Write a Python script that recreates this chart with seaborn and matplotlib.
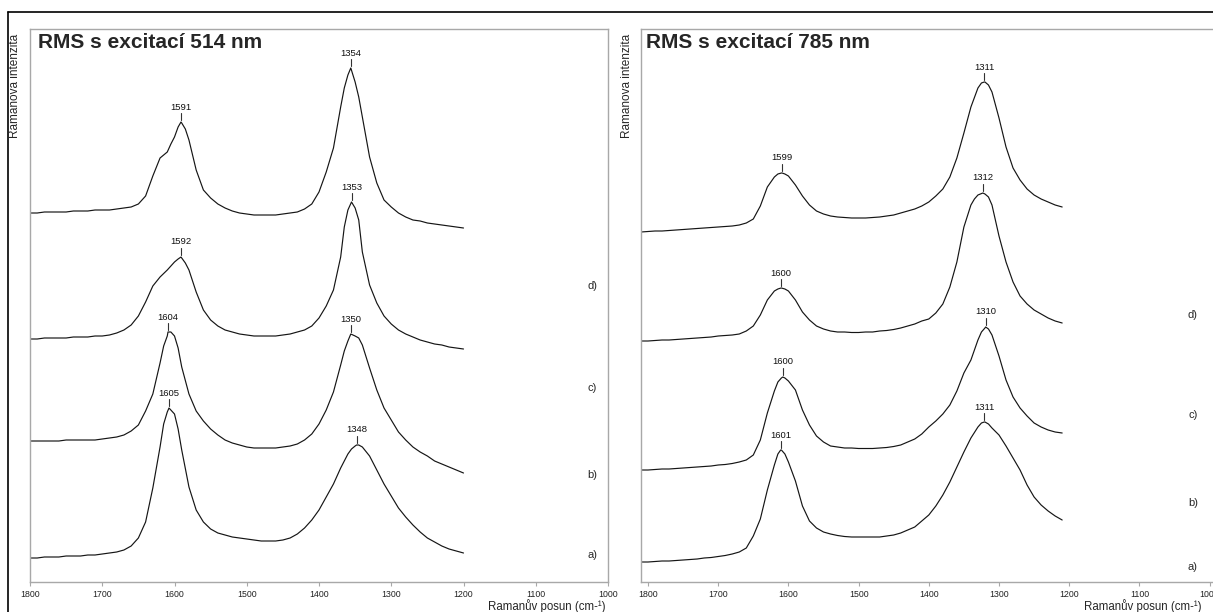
import matplotlib
matplotlib.use("Agg")
import matplotlib.pyplot as plt
import numpy as np
import pandas as pd
import seaborn as sns
from matplotlib.lines import Line2D

# ---------------- data (arbitrary intensity units, stacked) ----------------
wn_514 = list(range(1800, 1199, -10))   # Raman shift grid, 514 nm panel
wn_785 = list(range(1810, 1209, -10))   # Raman shift grid, 785 nm panel
spec_names = ["a)", "b)", "c)", "d)"]

int_514_a = [24, 24, 25, 25, 25, 26, 26, 26, 27, 27,
             28, 29, 30, 32, 36, 44, 60, 94, 135, 170,
             168, 132, 95, 72, 60, 53, 49, 47, 45, 44,
             43, 42, 41, 41, 41, 42, 44, 48, 54, 62,
             72, 85, 98, 114, 128, 136, 135, 126, 112, 98,
             86, 74, 65, 57, 50, 44, 40, 36, 33, 31,
             29]
int_514_b = [141, 141, 141, 141, 141, 142, 142, 142, 142, 142,
             143, 144, 145, 147, 151, 157, 171, 188, 219, 246,
             246, 215, 188, 171, 161, 153, 147, 142, 139, 137,
             135, 134, 134, 134, 134, 135, 136, 138, 142, 148,
             158, 172, 190, 217, 241, 246, 237, 214, 192, 174,
             162, 150, 142, 135, 130, 126, 121, 118, 115, 112,
             109]
int_514_c = [243, 243, 244, 244, 244, 244, 245, 245, 245, 246,
             246, 247, 249, 252, 257, 266, 280, 296, 305, 312,
             320, 324, 312, 290, 272, 262, 256, 252, 250, 248,
             247, 246, 246, 246, 246, 247, 248, 250, 252, 256,
             264, 276, 292, 325, 372, 374, 330, 297, 279, 266,
             258, 252, 248, 245, 242, 240, 238, 237, 235, 234,
             233]
int_514_d = [369, 369, 370, 370, 370, 370, 371, 371, 371, 372,
             372, 372, 373, 374, 375, 378, 386, 406, 424, 430,
             445, 459, 442, 412, 392, 384, 378, 374, 371, 369,
             368, 367, 367, 367, 367, 368, 369, 370, 373, 378,
             390, 410, 434, 475, 507, 500, 465, 425, 399, 382,
             375, 369, 365, 362, 361, 359, 358, 357, 356, 355,
             354]

int_785_a = [20, 20, 20.5, 21, 21, 21.5, 22, 22.5, 23, 24,
             24.5, 25.5, 26.5, 28, 30, 34, 46, 63, 92, 117,
             132, 120, 101, 76, 61, 54, 50, 48, 46.5, 45.5,
             45, 45, 45, 45, 45, 46, 47, 49, 52, 55,
             61, 67, 76, 87, 100, 115, 130, 144, 155, 160,
             154, 147, 136, 124, 112, 97, 85, 77, 71, 66,
             62]
int_785_b = [112, 112, 112.5, 113, 113, 113.5, 114, 114.5, 115, 115.5,
             116, 117, 117.5, 118.5, 120, 122, 127, 142, 169, 191,
             204, 201, 192, 172, 157, 146, 140, 136, 135, 134,
             134, 133.5, 133.5, 133.5, 134, 134.5, 135.5, 137, 140, 143,
             148, 155, 161, 168, 177, 191, 209, 222, 242, 254,
             247, 226, 202, 185, 174, 166, 159, 155, 152, 150,
             149]
int_785_c = [241, 241, 241.5, 242, 242, 242.5, 243, 243.5, 244, 244.5,
             245, 246, 246.5, 247, 248, 251, 256, 267, 282, 291,
             294, 291, 282, 270, 262, 256, 253, 251, 250, 250,
             249.5, 249.5, 250, 250, 251, 251.5, 252.5, 254, 256, 258,
             261, 263, 269, 278, 295, 320, 355, 377, 387, 388,
             377, 346, 320, 300, 286, 278, 272, 268, 264, 261,
             259]
int_785_d = [350, 350.5, 351, 351, 351.5, 352, 352.5, 353, 353.5, 354,
             354.5, 355, 355.5, 356, 357, 359, 363, 376, 395, 405,
             409, 406, 397, 386, 377, 371, 368, 366, 365, 364.5,
             364, 364, 364, 364.5, 365, 366, 367, 369, 371, 373,
             376, 380, 386, 393, 405, 424, 449, 475, 494, 500,
             490, 464, 435, 414, 402, 393, 387, 383, 380, 377,
             375]

# extra samples read near the band tops (shift, intensity) per spectrum a)..d)
fine_wn_514 = [[1615, 1595, 1355, 1345], [1615, 1605, 1595, 1365, 1345],
               [1605, 1595, 1585, 1365, 1345], [1605, 1595, 1585, 1365, 1345]]
fine_int_514 = [[158, 153, 133, 137], [236, 250, 234, 231, 244],
                [316, 323, 319, 355, 362], [438, 455, 453, 494, 485]]
fine_wn_785 = [[1615, 1605, 1325, 1315], [1615, 1605, 1325, 1315],
               [1615, 1605, 1335, 1315], [1615, 1605, 1325, 1315]]
fine_int_785 = [[128, 128, 159, 158], [200, 204, 250, 253],
                [293, 293, 383, 385], [408, 408, 499, 497]]

# peak maxima (position on axis, intensity) and their printed labels
peak_wn_514 = [[1607.6, 1348], [1609, 1356], [1591, 1355], [1591, 1356]]
peak_int_514 = [[174, 137], [250, 248], [325, 380], [460, 514]]
peak_lbl_514 = [["1605", "1348"], ["1604", "1350"], ["1592", "1353"], ["1591", "1354"]]

peak_wn_785 = [[1611, 1321], [1608, 1319], [1610.5, 1323], [1609, 1321]]
peak_int_785 = [[132, 160], [205, 255], [294, 389], [409, 500]]
peak_lbl_785 = [["1601", "1311"], ["1600", "1310"], ["1600", "1312"], ["1599", "1311"]]

titles = ["RMS s excitací 514 nm", "RMS s excitací 785 nm"]
xlabel = "Ramanův posun (cm-¹)"
ylabel = "Ramanova intenzita"
xticks = list(range(1800, 999, -100))

# ---------------- style ----------------
sns.set_theme(style="white")
plt.rcParams["font.family"] = ["Liberation Sans", "DejaVu Sans"]

W, H = 1213, 612
fig = plt.figure(figsize=(W / 100, H / 100), dpi=100)


def fx(px):
    return px / W


def fy(py):
    return 1 - py / H


FRAME = "#a8a8a8"


def panel(ax, wn, spectra, f_wn, f_int, pk_wn, pk_int, pk_lbl, xlim):
    rows = []
    for name, vals, fw, fi, pw, pi in zip(spec_names, spectra, f_wn, f_int, pk_wn, pk_int):
        xs = list(wn) + list(fw) + list(pw)
        ys = list(vals) + list(fi) + list(pi)
        for x, y in zip(xs, ys):
            rows.append((name, x, y))
    df = pd.DataFrame(rows, columns=["spec", "wn", "I"])
    sns.lineplot(data=df, x="wn", y="I", units="spec", estimator=None, sort=True,
                 color="#151515", lw=0.85, ax=ax, legend=False)
    for pws, pis, lbs in zip(pk_wn, pk_int, pk_lbl):
        for pw, pi, lb in zip(pws, pis, lbs):
            ax.plot([pw, pw], [pi + 2, pi + 9], color="#333333", lw=0.8)
            ax.text(pw, pi + 15, lb, ha="center", va="center", fontsize=6.8, color="#111111")
    ax.set_xlim(*xlim)
    ax.set_ylim(0, 553)
    ax.set_yticks([])
    ax.set_xticks(xticks)
    ax.set_xticklabels([str(t) for t in xticks])
    ax.set_xlabel("")
    ax.set_ylabel("")
    for s in ax.spines.values():
        s.set_color(FRAME)
        s.set_linewidth(1.0)
        s.set_visible(True)
    ax.tick_params(axis="x", direction="out", length=3, width=0.8, color=FRAME,
                   labelsize=6.3, labelcolor="#222222", pad=2.5, bottom=True)
    ax.set_facecolor("white")


ax1 = fig.add_axes([fx(30), fy(582), fx(608 - 30), (582 - 29) / H])
ax2 = fig.add_axes([fx(641), fy(582), fx(1216.6 - 641), (582 - 29) / H])

panel(ax1, wn_514, [int_514_a, int_514_b, int_514_c, int_514_d], fine_wn_514, fine_int_514,
      peak_wn_514, peak_int_514, peak_lbl_514, (1800, 1000))
panel(ax2, wn_785, [int_785_a, int_785_b, int_785_c, int_785_d], fine_wn_785, fine_int_785,
      peak_wn_785, peak_int_785, peak_lbl_785, (1810, 990))

# titles
fig.text(fx(38), fy(42), titles[0], fontsize=15, fontweight="bold", ha="left", va="center")
fig.text(fx(646), fy(42), titles[1], fontsize=15, fontweight="bold", ha="left", va="center")

# axis labels
fig.text(fx(15), fy(34), ylabel, rotation=90, ha="center", va="top", fontsize=8.5)
fig.text(fx(627), fy(34), ylabel, rotation=90, ha="center", va="top", fontsize=8.5)
fig.text(fx(605), fy(606.5), xlabel, ha="right", va="center", fontsize=8.3)
fig.text(fx(1201), fy(606.5), xlabel, ha="right", va="center", fontsize=8.3)

# series labels
lab_y_514 = [555, 475, 388, 286]
lab_y_785 = [567, 503, 415, 315]
for name, y in zip(spec_names, lab_y_514):
    fig.text(fx(592), fy(y), name, ha="center", va="center", fontsize=8)
for name, y in zip(spec_names, lab_y_785):
    fig.text(fx(1193), fy(y), name, ha="center", va="center", fontsize=8)

# page border lines
fig.add_artist(Line2D([fx(8), 1], [fy(12), fy(12)], color="black", lw=1.2))
fig.add_artist(Line2D([fx(8), fx(8)], [fy(12), 0], color="black", lw=1.2))

fig.savefig("out.png", dpi=100, facecolor="white")
